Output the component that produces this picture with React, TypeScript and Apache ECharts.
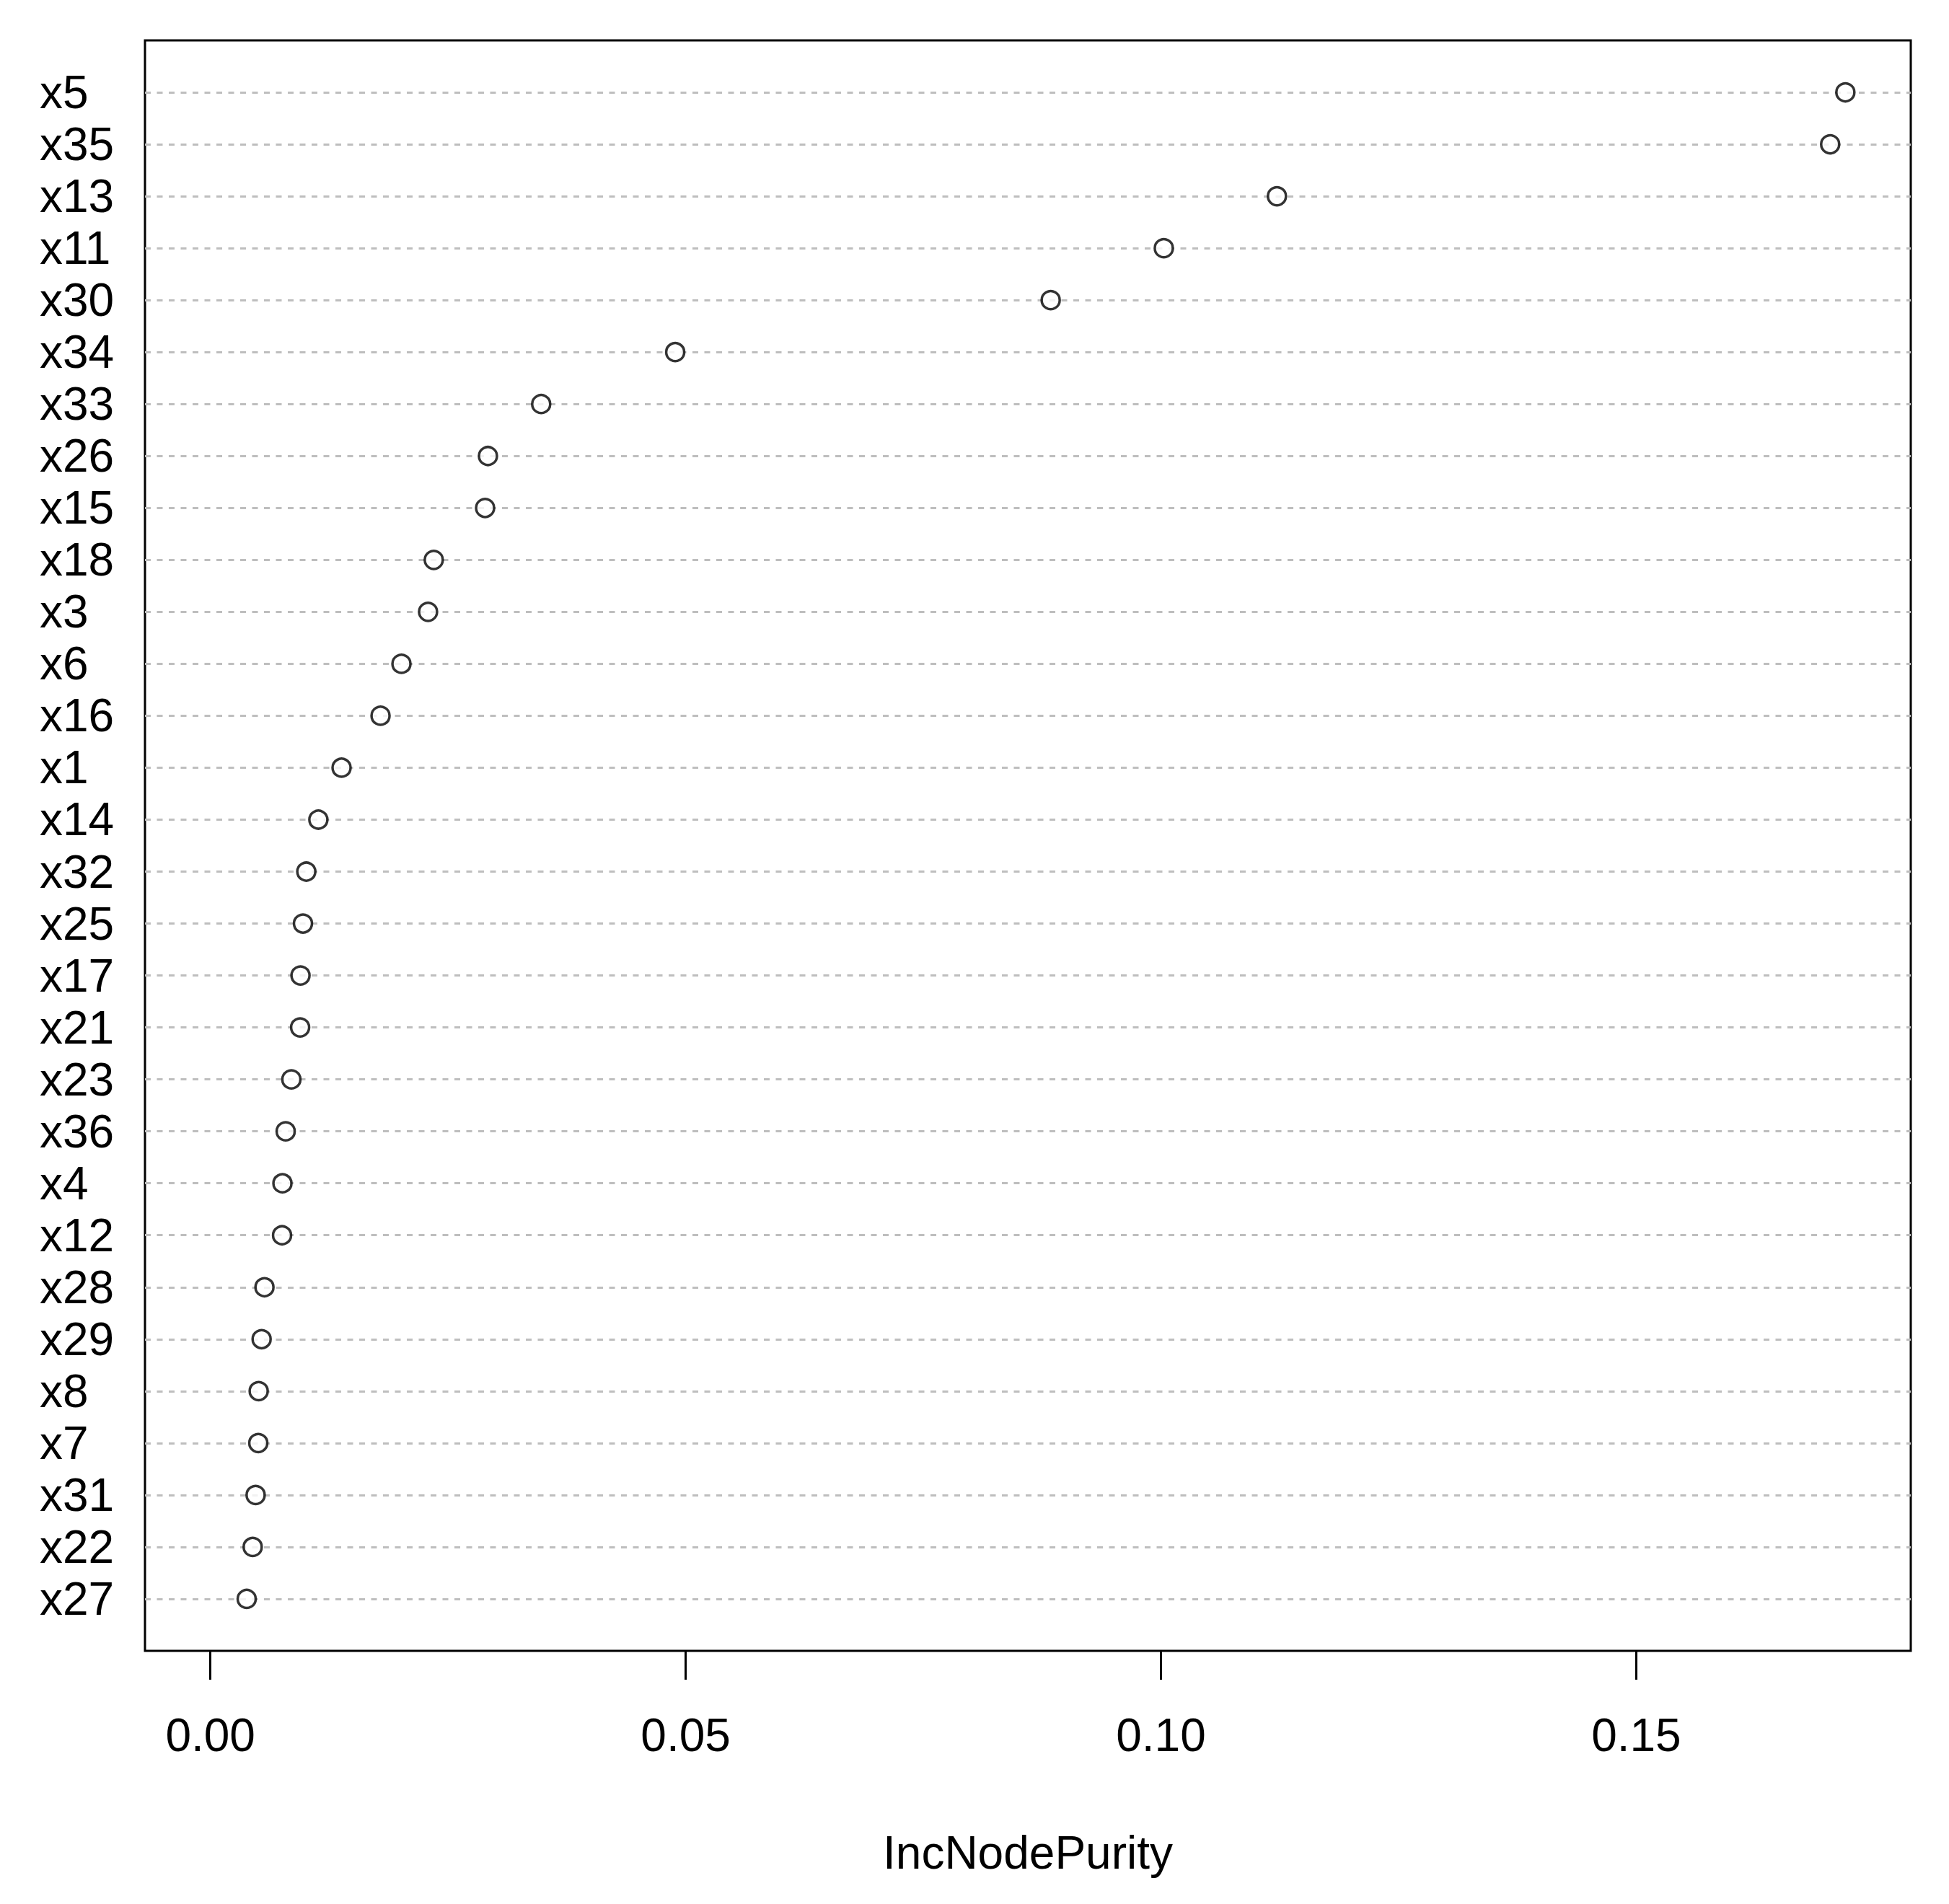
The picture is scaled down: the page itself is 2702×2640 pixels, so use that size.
import React, { useEffect, useRef } from "react";
import * as echarts from "echarts";

const variables = [
  "x5", "x35", "x13", "x11", "x30", "x34", "x33", "x26", "x15", "x18",
  "x3", "x6", "x16", "x1", "x14", "x32", "x25", "x17", "x21", "x23",
  "x36", "x4", "x12", "x28", "x29", "x8", "x7", "x31", "x22", "x27",
];

const incNodePurity = [
  0.1720, 0.1704, 0.1122, 0.1003, 0.0884, 0.0489, 0.0348, 0.0292, 0.0289, 0.0235,
  0.0229, 0.0201, 0.0179, 0.0138, 0.01136, 0.01009, 0.00974, 0.00948, 0.00944, 0.00852,
  0.00792, 0.00758, 0.00754, 0.00569, 0.00539, 0.00508, 0.00504, 0.00476, 0.00445, 0.00382,
];

const xTicks = [0, 0.05, 0.1, 0.15];
const xTitle = "IncNodePurity";

const FONT = "'Liberation Sans', Arial, sans-serif";

export default function App() {
  const ref = useRef<HTMLDivElement>(null);

  useEffect(() => {
    document.body.style.margin = "0";
    if (!ref.current) return;
    const chart = echarts.init(ref.current, null, { renderer: "svg" });
    const maxVal = Math.max(...incNodePurity);
    const n = variables.length;
    chart.setOption({
      animation: false,
      backgroundColor: "#ffffff",
      grid: {
        left: 201,
        right: 53,
        top: 56,
        bottom: 351,
        show: true,
        borderColor: "#000000",
        borderWidth: 3,
        backgroundColor: "transparent",
      },
      xAxis: {
        type: "value",
        position: "bottom",
        min: -0.04 * maxVal,
        max: 1.04 * maxVal,
        axisLine: { show: false, onZero: false },
        splitLine: { show: false },
        axisTick: {
          show: true,
          customValues: xTicks,
          length: 40,
          inside: false,
          lineStyle: { color: "#000000", width: 3 },
        },
        axisLabel: {
          show: true,
          customValues: xTicks,
          formatter: (v: number) => v.toFixed(2),
          fontSize: 64,
          fontFamily: FONT,
          color: "#000000",
          margin: 117,
          verticalAlign: "middle",
        },
        name: xTitle,
        nameLocation: "middle",
        nameGap: 280,
        nameTextStyle: {
          fontSize: 64,
          fontFamily: FONT,
          color: "#000000",
          verticalAlign: "middle",
        },
      },
      yAxis: {
        type: "value",
        inverse: true,
        min: 0,
        max: n + 1,
        interval: 1,
        axisLine: { show: false, onZero: false },
        axisTick: { show: false },
        axisLabel: {
          show: true,
          align: "left",
          margin: 146,
          fontSize: 64,
          fontFamily: FONT,
          color: "#000000",
          formatter: (v: number) => {
            const i = Math.round(v) - 1;
            return i >= 0 && i < n ? variables[i] : "";
          },
        },
        splitLine: {
          show: true,
          showMinLine: false,
          showMaxLine: false,
          lineStyle: { color: "#bebebe", width: 3, type: [8, 8.5] },
        },
      },
      series: [
        {
          type: "scatter",
          symbol: "circle",
          symbolSize: 25,
          itemStyle: { color: "#ffffff", borderColor: "#000000", borderWidth: 3.5 },
          data: incNodePurity.map((v, i) => [v, i + 1]),
          emphasis: { disabled: true },
        },
      ],
    });
    return () => chart.dispose();
  }, []);

  return <div ref={ref} style={{ width: 2702, height: 2640 }} />;
}
